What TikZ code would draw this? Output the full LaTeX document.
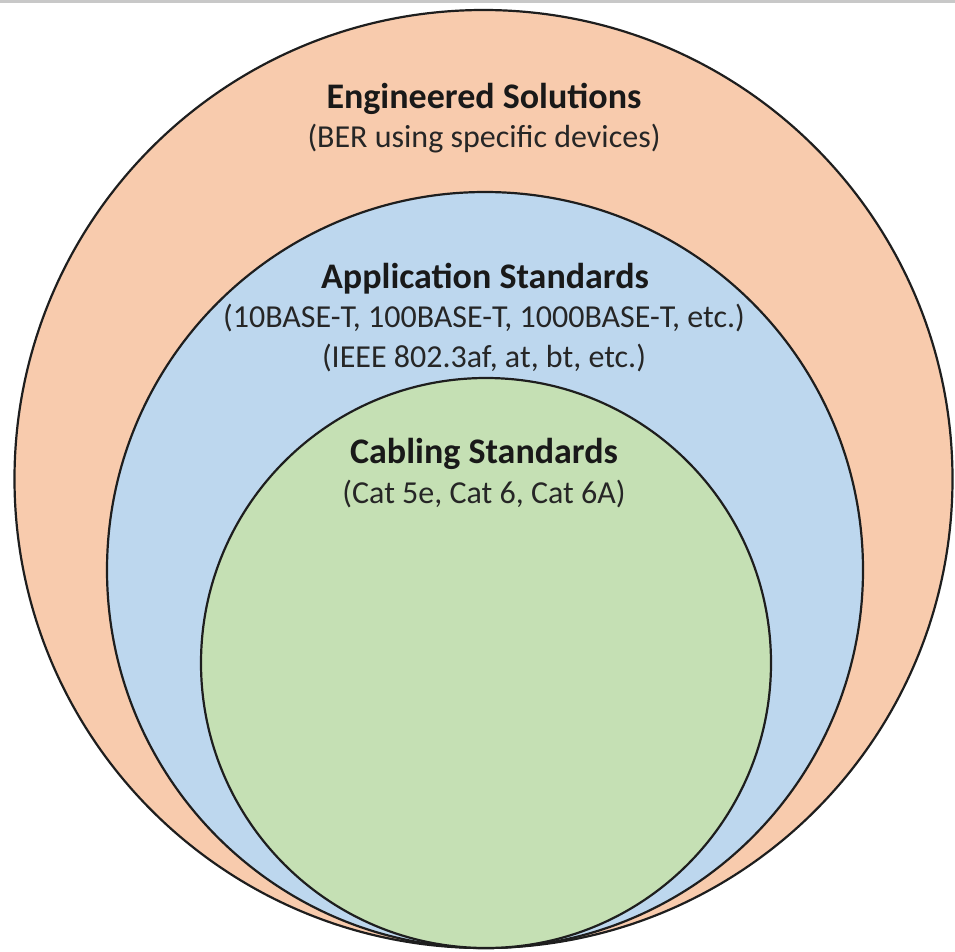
\documentclass[tikz,border=0pt]{standalone}
\usepackage{fontspec}
\setmainfont{Carlito}
\definecolor{eng}{HTML}{F8CBAD}
\definecolor{app}{HTML}{BDD7EE}
\definecolor{cab}{HTML}{C5E0B4}
\definecolor{edge}{HTML}{1E1E1E}
\definecolor{topbar}{HTML}{C8C8C8}
\tikzset{
  ring/.style={circle, draw=edge, line width=2.2pt, inner sep=0pt, outer sep=0pt},
  title/.style={anchor=base, inner sep=0pt, font=\fontsize{36}{42}\selectfont\bfseries, text=black!90},
  sub/.style={anchor=base, inner sep=0pt, font=\fontsize{32}{39}\selectfont, text=black!85}
}
\begin{document}
\begin{tikzpicture}[x=1pt,y=-1pt]
\useasboundingbox (0,0) rectangle (955,951);
\fill[white] (0,0) rectangle (955,951);
\fill[topbar] (0,0) rectangle (955,2.5);
\node[ring, fill=eng, minimum size=938pt] (outer) at (483.5,479) {};
\node[ring, fill=app, minimum size=756pt] (middle) at (485,570) {};
\node[ring, fill=cab, minimum size=570pt] (inner) at (486,663) {};
\node[title] (engT) at (484,108) {Engineered Solutions};
\node[sub] (engS) at (484,147) {(BER using specific devices)};
\node[title] (appT) at (485,288) {Application Standards};
\node[sub] (appS1) at (484,327) {(10BASE-T, 100BASE-T, 1000BASE-T, etc.)};
\node[sub] (appS2) at (484,367) {(IEEE 802.3af, at, bt, etc.)};
\node[title] (cabT) at (484,463) {Cabling Standards};
\node[sub] (cabS) at (484,503) {(Cat 5e, Cat 6, Cat 6A)};
\end{tikzpicture}
\end{document}
